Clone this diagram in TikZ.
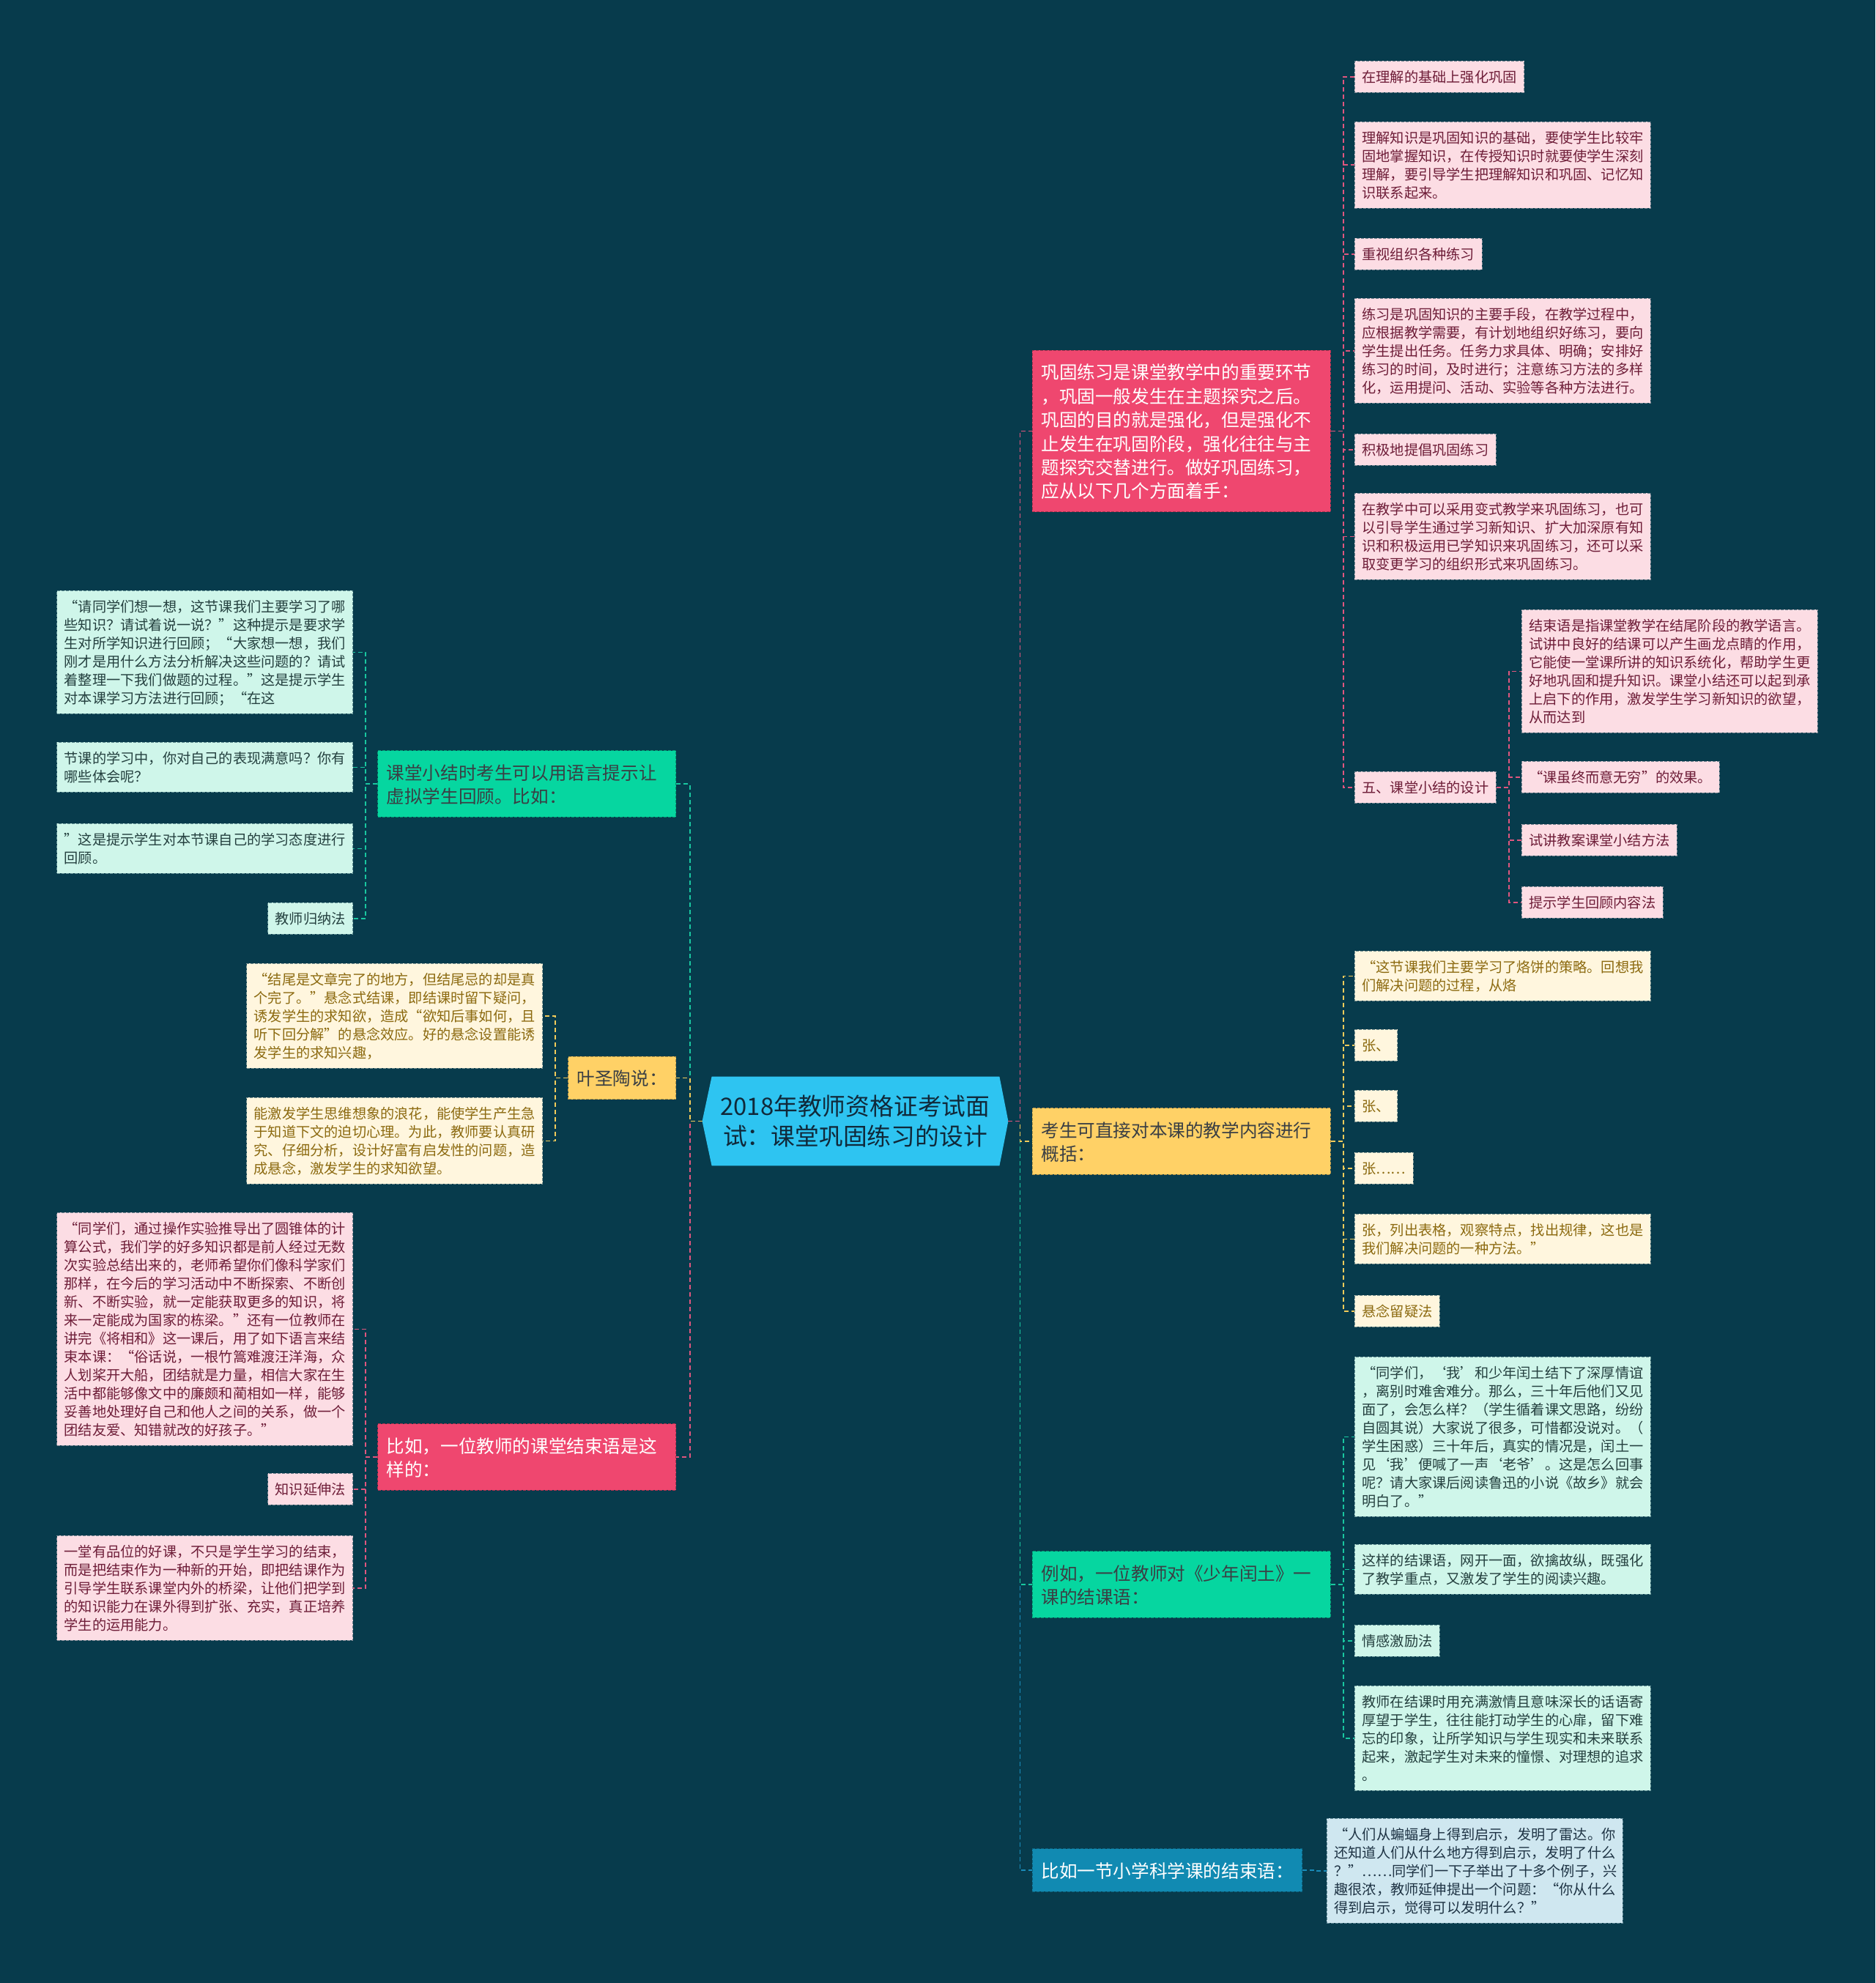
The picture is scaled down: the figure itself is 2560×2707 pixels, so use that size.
\documentclass[tikz,border=0pt]{standalone}
\usepackage{fontspec}
\newfontfamily\cjk{Noto Sans CJK SC}
\usetikzlibrary{backgrounds}

\definecolor{bgcol}{HTML}{073B4C}
\definecolor{redmain}{HTML}{EF476F}
\definecolor{yelmain}{HTML}{FFD166}
\definecolor{grnmain}{HTML}{06D6A0}
\definecolor{blumain}{HTML}{118AB2}
\definecolor{ctrfill}{HTML}{2EC4F1}
\definecolor{ctrtext}{HTML}{10293A}
\definecolor{darktext}{HTML}{3A3F44}
\definecolor{pinkfill}{HTML}{FCDDE4}
\definecolor{creamfill}{HTML}{FFF6DE}
\definecolor{mintfill}{HTML}{CFF6EA}
\definecolor{skyfill}{HTML}{CFE7F0}
\definecolor{pinktext}{HTML}{6E1D38}
\definecolor{creamtext}{HTML}{8C6A10}
\definecolor{minttext}{HTML}{24403F}
\definecolor{skytext}{HTML}{1E3344}
\definecolor{redline}{HTML}{E0567E}
\definecolor{yelline}{HTML}{F2CB5A}
\definecolor{grnline}{HTML}{19C7A0}
\definecolor{bluline}{HTML}{1A8CBA}

\newcommand{\branch}[4]{\draw[#1] (#2) -- ++(#3,0) |- (#4);}
\newcommand{\lstrut}{\rule[-0.18\baselineskip]{0pt}{\baselineskip}}

\tikzset{
  leaf/.style={draw, dash pattern=on 2pt off 1pt, line width=0.4pt, inner xsep=5pt, inner ysep=4.5pt,
    font=\cjk\fontsize{9.6}{12.5}\selectfont, align=left,
    execute at begin node=\lstrut, execute at end node=\lstrut},
  wide/.style={text width=192pt},
  pinkleaf/.style={leaf, fill=pinkfill, draw=pinkfill!45!bgcol, text=pinktext},
  creamleaf/.style={leaf, fill=creamfill, draw=creamfill!45!bgcol, text=creamtext},
  mintleaf/.style={leaf, fill=mintfill, draw=mintfill!45!bgcol, text=minttext},
  skyleaf/.style={leaf, fill=skyfill, draw=skyfill!45!bgcol, text=skytext},
  mainbox/.style={draw, dash pattern=on 2pt off 1pt, line width=0.4pt, inner xsep=6pt, inner ysep=6.5pt,
    font=\cjk\fontsize{12.3}{16.2}\selectfont, align=left,
    execute at begin node=\lstrut, execute at end node=\lstrut},
  mainwide/.style={text width=191.5pt},
  redbox/.style={mainbox, fill=redmain, draw=redmain!70!black, text=white},
  yelbox/.style={mainbox, fill=yelmain, draw=yelmain!70!black, text=darktext},
  grnbox/.style={mainbox, fill=grnmain, draw=grnmain!70!black, text=darktext},
  blubox/.style={mainbox, fill=blumain, draw=blumain!70!black, text=white},
  link/.style={dash pattern=on 3pt off 2pt, line width=0.9pt},
  redlink/.style={link, redline},
  yellink/.style={link, yelline},
  grnlink/.style={link, grnline},
  blulink/.style={link, bluline}
}

\begin{document}
\begin{tikzpicture}[x=0.5pt, y=-0.5pt]
% centre
\node[font=\cjk\fontsize{16.4}{20.5}\selectfont, text=ctrtext, align=center, minimum width=208.5pt, minimum height=60.5pt, inner sep=0pt] (ctr) at (1167.5,1530.5) {2018年教师资格证考试面\\试：课堂巩固练习的设计};
\begin{scope}[on background layer]
\fill[bgcol] (0,0) rectangle (2560,2707);
\fill[ctrfill] (ctr.west) -- ([xshift=6.5pt]ctr.north west) -- ([xshift=-6pt]ctr.north east) -- (ctr.east) -- ([xshift=-6pt]ctr.south east) -- ([xshift=6.5pt]ctr.south west) -- cycle;
\end{scope}

% right side
\node[redbox, mainwide, anchor=west] (rmain) at (1409,588.5) {巩固练习是课堂教学中的重要环节\\，巩固一般发生在主题探究之后。\\巩固的目的就是强化，但是强化不\\止发生在巩固阶段，强化往往与主\\题探究交替进行。做好巩固练习，\\应从以下几个方面着手：};
\node[yelbox, mainwide, anchor=west] (ymain) at (1409,1558) {考生可直接对本课的教学内容进行\\概括：};
\node[grnbox, mainwide, anchor=west] (gmain) at (1409,2163) {例如，一位教师对《少年闰土》一\\课的结课语：};
\node[blubox, anchor=west] (bmain) at (1409,2553) {比如一节小学科学课的结束语：};

\node[pinkleaf, anchor=north west] (r1) at (1849,83) {在理解的基础上强化巩固};
\node[pinkleaf, wide, anchor=north west] (r2) at (1849,166) {理解知识是巩固知识的基础，要使学生比较牢\\固地掌握知识，在传授知识时就要使学生深刻\\理解，要引导学生把理解知识和巩固、记忆知\\识联系起来。};
\node[pinkleaf, anchor=north west] (r3) at (1849,325) {重视组织各种练习};
\node[pinkleaf, wide, anchor=north west] (r4) at (1849,407) {练习是巩固知识的主要手段，在教学过程中，\\应根据教学需要，有计划地组织好练习，要向\\学生提出任务。任务力求具体、明确；安排好\\练习的时间，及时进行；注意练习方法的多样\\化，运用提问、活动、实验等各种方法进行。};
\node[pinkleaf, anchor=north west] (r5) at (1849,592) {积极地提倡巩固练习};
\node[pinkleaf, wide, anchor=north west] (r6) at (1849,673) {在教学中可以采用变式教学来巩固练习，也可\\以引导学生通过学习新知识、扩大加深原有知\\识和积极运用已学知识来巩固练习，还可以采\\取变更学习的组织形式来巩固练习。};
\node[pinkleaf, anchor=north west] (r7) at (1849,1053) {五、课堂小结的设计};
\node[pinkleaf, wide, anchor=north west] (r7a) at (2077,832) {结束语是指课堂教学在结尾阶段的教学语言。\\试讲中良好的结课可以产生画龙点睛的作用，\\它能使一堂课所讲的知识系统化，帮助学生更\\好地巩固和提升知识。课堂小结还可以起到承\\上启下的作用，激发学生学习新知识的欲望，\\从而达到};
\node[pinkleaf, anchor=north west] (r7b) at (2077,1039) {“课虽终而意无穷”的效果。};
\node[pinkleaf, anchor=north west] (r7c) at (2077,1125) {试讲教案课堂小结方法};
\node[pinkleaf, anchor=north west] (r7d) at (2077,1210) {提示学生回顾内容法};

\node[creamleaf, wide, anchor=north west] (y1) at (1849,1298) {“这节课我们主要学习了烙饼的策略。回想我\\们解决问题的过程，从烙};
\node[creamleaf, anchor=north west] (y2) at (1849,1405) {张、};
\node[creamleaf, anchor=north west] (y3) at (1849,1488) {张、};
\node[creamleaf, anchor=north west] (y4) at (1849,1573) {张……};
\node[creamleaf, wide, anchor=north west] (y5) at (1849,1657) {张，列出表格，观察特点，找出规律，这也是\\我们解决问题的一种方法。”};
\node[creamleaf, anchor=north west] (y6) at (1849,1768) {悬念留疑法};

\node[mintleaf, wide, anchor=north west] (g1) at (1849,1852) {“同学们，‘我’和少年闰土结下了深厚情谊\\，离别时难舍难分。那么，三十年后他们又见\\面了，会怎么样？（学生循着课文思路，纷纷\\自圆其说）大家说了很多，可惜都没说对。（\\学生困惑）三十年后，真实的情况是，闰土一\\见‘我’便喊了一声‘老爷’。这是怎么回事\\呢？请大家课后阅读鲁迅的小说《故乡》就会\\明白了。”};
\node[mintleaf, wide, anchor=north west] (g2) at (1849,2108) {这样的结课语，网开一面，欲擒故纵，既强化\\了教学重点，又激发了学生的阅读兴趣。};
\node[mintleaf, anchor=north west] (g3) at (1849,2218) {情感激励法};
\node[mintleaf, wide, anchor=north west] (g4) at (1849,2301) {教师在结课时用充满激情且意味深长的话语寄\\厚望于学生，往往能打动学生的心扉，留下难\\忘的印象，让所学知识与学生现实和未来联系\\起来，激起学生对未来的憧憬、对理想的追求\\。};

\node[skyleaf, wide, anchor=north west] (b1) at (1811,2482) {“人们从蝙蝠身上得到启示，发明了雷达。你\\还知道人们从什么地方得到启示，发明了什么\\？”……同学们一下子举出了十多个例子，兴\\趣很浓，教师延伸提出一个问题：“你从什么\\得到启示，觉得可以发明什么？”};

% left side
\node[grnbox, mainwide, anchor=east] (lgmain) at (923,1070) {课堂小结时考生可以用语言提示让\\虚拟学生回顾。比如：};
\node[yelbox, anchor=east] (lymain) at (923,1471.5) {叶圣陶说：};
\node[redbox, mainwide, anchor=east] (lrmain) at (923,1989) {比如，一位教师的课堂结束语是这\\样的：};

\node[mintleaf, wide, anchor=north east] (lg1) at (482,806) {“请同学们想一想，这节课我们主要学习了哪\\些知识？请试着说一说？”这种提示是要求学\\生对所学知识进行回顾；“大家想一想，我们\\刚才是用什么方法分析解决这些问题的？请试\\着整理一下我们做题的过程。”这是提示学生\\对本课学习方法进行回顾；“在这};
\node[mintleaf, wide, anchor=north east] (lg2) at (482,1013) {节课的学习中，你对自己的表现满意吗？你有\\哪些体会呢？};
\node[mintleaf, wide, anchor=north east] (lg3) at (482,1124) {”这是提示学生对本节课自己的学习态度进行\\回顾。};
\node[mintleaf, anchor=north east] (lg4) at (482,1232) {教师归纳法};

\node[creamleaf, wide, anchor=north east] (ly1) at (741,1315) {“结尾是文章完了的地方，但结尾忌的却是真\\个完了。”悬念式结课，即结课时留下疑问，\\诱发学生的求知欲，造成“欲知后事如何，且\\听下回分解”的悬念效应。好的悬念设置能诱\\发学生的求知兴趣，};
\node[creamleaf, wide, anchor=north east] (ly2) at (741,1498) {能激发学生思维想象的浪花，能使学生产生急\\于知道下文的迫切心理。为此，教师要认真研\\究、仔细分析，设计好富有启发性的问题，造\\成悬念，激发学生的求知欲望。};

\node[pinkleaf, wide, anchor=north east] (lr1) at (482,1655) {“同学们，通过操作实验推导出了圆锥体的计\\算公式，我们学的好多知识都是前人经过无数\\次实验总结出来的，老师希望你们像科学家们\\那样，在今后的学习活动中不断探索、不断创\\新、不断实验，就一定能获取更多的知识，将\\来一定能成为国家的栋梁。”还有一位教师在\\讲完《将相和》这一课后，用了如下语言来结\\束本课：“俗话说，一根竹篙难渡汪洋海，众\\人划桨开大船，团结就是力量，相信大家在生\\活中都能够像文中的廉颇和蔺相如一样，能够\\妥善地处理好自己和他人之间的关系，做一个\\团结友爱、知错就改的好孩子。”};
\node[pinkleaf, anchor=north east] (lr2) at (482,2011) {知识延伸法};
\node[pinkleaf, wide, anchor=north east] (lr3) at (482,2096) {一堂有品位的好课，不只是学生学习的结束，\\而是把结束作为一种新的开始，即把结课作为\\引导学生联系课堂内外的桥梁，让他们把学到\\的知识能力在课外得到扩张、充实，真正培养\\学生的运用能力。};

% trunk
\branch{blulink}{ctr.east}{16}{bmain.west}
\branch{grnlink}{ctr.east}{16}{gmain.west}
\branch{yellink}{ctr.east}{16}{ymain.west}
\branch{redlink}{ctr.east}{16}{rmain.west}
\branch{redlink}{ctr.west}{-17}{lrmain.east}
\branch{grnlink}{ctr.west}{-17}{lgmain.east}
\branch{yellink}{ctr.west}{-17}{lymain.east}

% right branches
\branch{redlink}{rmain.east}{17}{r1.west}
\branch{redlink}{rmain.east}{17}{r2.west}
\branch{redlink}{rmain.east}{17}{r3.west}
\branch{redlink}{rmain.east}{17}{r4.west}
\branch{redlink}{rmain.east}{17}{r5.west}
\branch{redlink}{rmain.east}{17}{r6.west}
\branch{redlink}{rmain.east}{17}{r7.west}
\branch{redlink}{r7.east}{17}{r7a.west}
\branch{redlink}{r7.east}{17}{r7b.west}
\branch{redlink}{r7.east}{17}{r7c.west}
\branch{redlink}{r7.east}{17}{r7d.west}
\branch{yellink}{ymain.east}{17}{y1.west}
\branch{yellink}{ymain.east}{17}{y2.west}
\branch{yellink}{ymain.east}{17}{y3.west}
\branch{yellink}{ymain.east}{17}{y4.west}
\branch{yellink}{ymain.east}{17}{y5.west}
\branch{yellink}{ymain.east}{17}{y6.west}
\branch{grnlink}{gmain.east}{17}{g1.west}
\branch{grnlink}{gmain.east}{17}{g2.west}
\branch{grnlink}{gmain.east}{17}{g3.west}
\branch{grnlink}{gmain.east}{17}{g4.west}
\branch{blulink}{bmain.east}{16}{b1.west}

% left branches
\branch{grnlink}{lgmain.west}{-16}{lg1.east}
\branch{grnlink}{lgmain.west}{-16}{lg2.east}
\branch{grnlink}{lgmain.west}{-16}{lg3.east}
\branch{grnlink}{lgmain.west}{-16}{lg4.east}
\branch{yellink}{lymain.west}{-17}{ly1.east}
\branch{yellink}{lymain.west}{-17}{ly2.east}
\branch{redlink}{lrmain.west}{-16}{lr1.east}
\branch{redlink}{lrmain.west}{-16}{lr2.east}
\branch{redlink}{lrmain.west}{-16}{lr3.east}
\end{tikzpicture}
\end{document}
